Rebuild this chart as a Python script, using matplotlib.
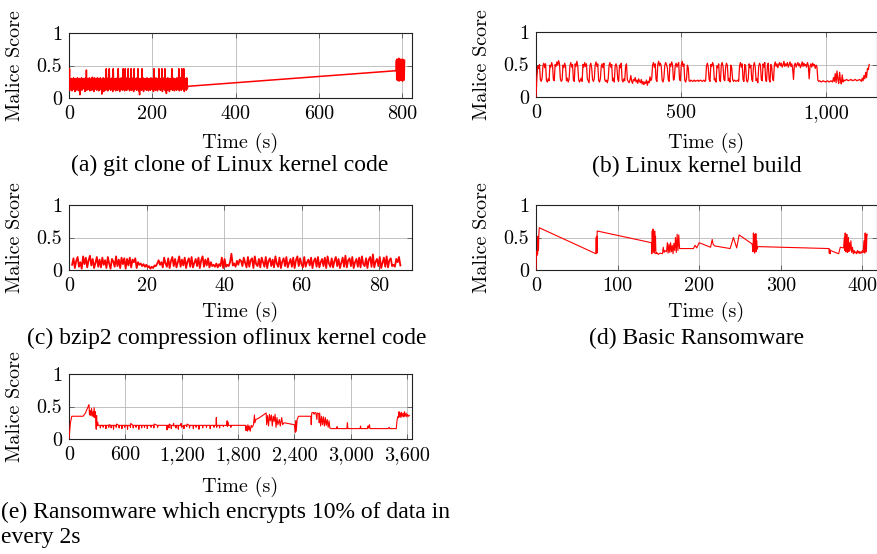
import numpy as np
import matplotlib
matplotlib.use("Agg")
import matplotlib.pyplot as plt
from matplotlib.ticker import FuncFormatter, FixedLocator

# ---------------- data ----------------
# (a) git clone of Linux kernel code -- dense part 0..285 s, then 785..805 s (values in %)
a_dense_span = [0, 285]
a_dense = [
    18, 45, 12, 29, 14, 30, 11, 28, 15, 31, 13, 29, 10, 30, 16, 28, 12, 31, 14, 29,
    11, 30, 5, 28, 13, 31, 12, 29, 16, 30, 14, 28, 10, 31, 13, 43, 12, 30, 15, 29,
    13, 31, 11, 28, 14, 30, 12, 32, 15, 29, 10, 31, 13, 30, 16, 28, 12, 31, 14, 30,
    11, 29, 15, 31, 13, 28, 6, 30, 14, 31, 10, 29, 16, 30, 12, 45, 14, 29, 11, 31,
    13, 45, 15, 28, 12, 30, 14, 31, 10, 45, 16, 29, 13, 30, 11, 28, 15, 31, 12, 45,
    14, 30, 10, 29, 16, 31, 13, 28, 12, 45, 15, 30, 11, 45, 14, 29, 12, 31, 13, 45,
    15, 28, 11, 30, 14, 45, 12, 29, 16, 31, 10, 45, 13, 28, 15, 30, 12, 31, 14, 45,
    11, 29, 5, 30, 15, 28, 12, 45, 14, 31, 10, 29, 16, 30, 13, 28, 12, 31, 15, 29,
    11, 30, 14, 28, 12, 31, 16, 29, 13, 30, 10, 45, 15, 28, 12, 31, 14, 29, 11, 30,
    15, 45, 13, 28, 12, 30, 14, 45, 10, 31, 16, 29, 13, 45, 11, 28, 7, 30, 12, 31,
    14, 29, 10, 30, 13, 28, 16, 45, 12, 31, 15, 29, 11, 30, 14, 28, 12, 31, 13, 30,
    15, 45, 11, 29, 14, 31, 12, 45, 16, 28, 13, 45, 10, 30, 15, 29, 12, 31, 14, 18,
]
a_tail_span = [785, 805]
a_tail = [42, 58, 28, 60, 30, 57, 27, 59, 29, 61, 26, 58, 31, 60, 28, 57,
          27, 59, 30, 58, 28, 60, 26, 57, 29, 59, 27, 56, 30, 58]

# (b) Linux kernel build -- 0..1150 s (values in %)
b_span = [0, 1150]
b_vals = [
    0, 30, 47, 44, 50, 27, 24, 29, 48, 52, 45, 51, 26, 23, 28, 25, 49, 46, 53, 48, 27, 25, 50, 47,
    54, 49, 56, 51, 28, 24, 26, 49, 45, 52, 47, 25, 29, 23, 27, 48, 53, 46, 50, 26, 24, 51, 47, 55,
    48, 27, 23, 26, 29, 24, 50, 46, 53, 47, 51, 28, 25, 22, 48, 52, 45, 27, 24, 28, 49, 54, 47, 51,
    26, 23, 28, 47, 51, 45, 52, 27, 24, 26, 22, 28, 49, 53, 46, 50, 25, 29, 23, 48, 51, 46, 27, 24,
    49, 45, 52, 26, 23, 28, 25, 47, 51, 27, 24, 22, 26, 33, 24, 21, 27, 25, 30, 23, 26, 21, 28, 24,
    22, 27, 20, 24, 19, 23, 21, 26, 18, 24, 22, 31, 25, 28, 49, 53, 46, 51, 27, 24, 50, 55, 48, 52,
    47, 26, 23, 29, 48, 53, 50, 45, 27, 24, 51, 47, 54, 49, 26, 28, 48, 52, 46, 50, 53, 27, 25, 49,
    55, 47, 51, 26, 23, 28, 49, 45, 25, 24, 26, 25, 24, 25, 26, 24, 25, 25, 26, 24, 25, 26, 25, 24,
    25, 26, 24, 25, 48, 52, 46, 27, 24, 50, 47, 53, 49, 26, 28, 23, 48, 45, 51, 26, 24, 49, 53, 47,
    27, 25, 46, 52, 48, 25, 28, 23, 49, 45, 27, 24, 26, 25, 24, 25, 26, 24, 48, 53, 46, 51, 27, 24,
    50, 47, 26, 23, 28, 51, 45, 49, 27, 24, 48, 53, 46, 25, 28, 22, 47, 52, 49, 27, 25, 51, 46, 53,
    26, 24, 48, 52, 27, 23, 50, 46, 28, 25, 49, 54, 47, 51, 45, 50, 53, 48, 52, 46, 49, 55, 47, 51,
    48, 53, 46, 50, 54, 47, 51, 44, 27, 49, 52, 46, 50, 53, 48, 51, 45, 49, 54, 47, 52, 48, 50, 46,
    53, 49, 28, 47, 51, 46, 52, 48, 50, 44, 49, 46, 26, 24, 25, 24, 23, 24, 25, 24, 24, 23, 24, 25,
    24, 23, 24, 25, 24, 23, 30, 24, 36, 22, 40, 27, 21, 38, 25, 20, 34, 23, 26, 25, 26, 27, 26, 25,
    26, 26, 27, 26, 25, 26, 26, 27, 26, 25, 26, 26, 27, 26, 24, 29, 25, 33, 28, 38, 30, 44, 42, 50,
]

# (c) bzip2 compression -- 0.8..85.5 s (values in %)
c_span = [0.8, 85.5]
c_vals = [
    8, 18, 3, 14, 20, 5, 12, 2, 21, 9, 19, 4, 15, 22, 7, 17, 3, 11, 20, 5,
    16, 4, 19, 8, 15, 3, 20, 10, 2, 17, 13, 5, 21, 6, 16, 3, 19, 9, 18, 2,
    17, 7, 19, 4, 16, 12, 18, 3, 12, 8, 10, 6, 9, 5, 8, 4, 6, 2, 5, 3,
    7, 6, 10, 15, 8, 12, 4, 19, 10, 5, 18, 3, 14, 20, 6, 17, 4, 12, 21, 5,
    16, 7, 19, 3, 13, 18, 5, 20, 4, 11, 17, 6, 19, 3, 15, 21, 5, 16, 7, 18,
    4, 12, 6, 8, 5, 10, 4, 9, 6, 19, 3, 17, 5, 8, 6, 12, 25, 7, 10, 5,
    14, 8, 16, 14, 6, 19, 11, 4, 20, 5, 15, 18, 3, 21, 9, 6, 17, 4, 19, 12,
    5, 20, 3, 14, 18, 6, 16, 4, 21, 10, 5, 19, 3, 13, 18, 6, 20, 4, 11, 17,
    5, 19, 3, 15, 21, 6, 18, 9, 4, 20, 5, 12, 16, 7, 19, 3, 14, 18, 5, 20,
    4, 12, 17, 6, 19, 3, 21, 10, 5, 18, 4, 14, 20, 6, 17, 3, 11, 19, 5, 22,
    4, 15, 18, 6, 20, 3, 12, 17, 5, 19, 4, 21, 9, 6, 18, 3, 16, 20, 5, 24,
    4, 13, 17, 6, 20, 3, 11, 19, 5, 21, 4, 15, 18, 6, 8, 5, 17, 12, 20, 7,
]

# (d) Basic Ransomware
d_time = [0, 0.5, 1, 1.5, 2, 2.5, 3, 3.5, 4,
          73.5, 73.8, 74.1, 74.4, 74.7, 75,
          141.5, 142, 142.5, 143, 143.5, 144, 144.5, 145, 145.5, 146, 146.5, 147, 148,
          150, 152, 155, 156, 157, 158, 160, 161, 162, 163, 164, 165, 166, 167, 168,
          169, 170, 171, 172, 173, 174, 175, 176,
          193, 195, 197, 200, 214, 216, 217, 219, 238, 242, 246, 249, 265,
          266, 266.5, 267, 267.5, 268, 268.5, 269, 269.5, 270, 270.5, 271, 272,
          359, 359.5, 360, 360.5, 361, 371, 373, 377,
          378, 378.5, 379, 379.5, 380, 380.5, 381, 381.5, 382, 382.5, 383, 383.5, 384,
          385, 386, 387, 388, 389, 390, 391, 392, 393, 394, 395, 396, 397, 398, 399,
          400, 401, 402, 403, 403.5, 404, 404.5, 405, 405.5, 406]
d_score = [0, 0.28, 0.22, 0.3, 0.25, 0.52, 0.3, 0.55, 0.65,
           0.25, 0.5, 0.27, 0.52, 0.26, 0.6,
           0.42, 0.25, 0.6, 0.3, 0.63, 0.28, 0.55, 0.26, 0.6, 0.3, 0.52, 0.25, 0.27,
           0.24, 0.26, 0.25, 0.35, 0.27, 0.3, 0.28, 0.42, 0.26, 0.4, 0.27, 0.42, 0.28, 0.38, 0.25,
           0.41, 0.3, 0.5, 0.27, 0.55, 0.3, 0.54, 0.33,
           0.33, 0.38, 0.34, 0.42, 0.35, 0.47, 0.4, 0.37, 0.33, 0.5, 0.34, 0.54, 0.4,
           0.28, 0.57, 0.3, 0.55, 0.26, 0.5, 0.3, 0.56, 0.28, 0.45, 0.32, 0.36,
           0.33, 0.26, 0.32, 0.25, 0.3, 0.25, 0.35, 0.34,
           0.5, 0.3, 0.57, 0.28, 0.45, 0.3, 0.55, 0.27, 0.4, 0.3, 0.5, 0.28, 0.42,
           0.3, 0.45, 0.27, 0.35, 0.25, 0.3, 0.26, 0.28, 0.25, 0.3, 0.26, 0.29, 0.25, 0.28, 0.26,
           0.3, 0.27, 0.45, 0.26, 0.57, 0.3, 0.55, 0.28, 0.5, 0.55]

# (e) Ransomware which encrypts 10% of data in every 2s
e_time = [0, 15, 30, 150, 175, 213, 218, 225, 232, 240, 247, 255, 262, 268, 275, 280, 286, 290, 294, 298, 305, 312,
          330, 334, 338, 360, 364, 368, 390, 393, 397, 420, 424, 428, 445, 449, 453, 470, 474, 478,
          500, 503, 507, 530, 534, 538, 560, 564, 568, 590, 594, 598, 620, 623, 627, 650, 654, 658,
          680, 684, 688, 710, 714, 718, 740, 744, 748, 770, 774, 778, 800, 804, 808, 830, 834, 838,
          870, 874, 878, 900, 904, 908, 940, 944, 948, 1000, 1040, 1044, 1048, 1060, 1064, 1068,
          1085, 1089, 1093, 1110, 1114, 1118, 1135, 1139, 1143, 1160, 1164, 1168, 1190, 1194, 1198,
          1220, 1224, 1228, 1250, 1254, 1258, 1280, 1284, 1288, 1320, 1324, 1328, 1350, 1354, 1358,
          1380, 1384, 1388, 1420, 1424, 1428, 1460, 1464, 1468, 1500, 1504, 1508, 1540, 1544, 1548,
          1565, 1569, 1573, 1577, 1600, 1604, 1608, 1640, 1644, 1648, 1680, 1684, 1688, 1692, 1696,
          1720, 1724, 1728, 1760, 1800, 1840, 1860,
          1880, 1885, 1890, 1900, 1905, 1915, 1920, 1930, 1940, 1950, 1965, 1975, 1980, 1990, 2020, 2060, 2100,
          2105, 2115, 2125, 2135, 2145, 2155, 2165, 2175, 2185, 2195, 2205, 2215, 2225, 2240, 2250, 2265, 2275, 2290,
          2400, 2410, 2415, 2420, 2430, 2445, 2575, 2580, 2585, 2600, 2610, 2620, 2630, 2640, 2645, 2660, 2665,
          2670, 2680, 2690, 2700, 2710, 2720, 2730, 2740, 2750, 2760, 2770, 2778, 2790,
          2850, 2855, 2860, 2960, 2965, 2970, 3050, 3100, 3105, 3110, 3180, 3185, 3190, 3200, 3205, 3300,
          3400, 3410, 3415, 3485,
          3495, 3505, 3510, 3515, 3520, 3528, 3535, 3542, 3550, 3558, 3565, 3572, 3580, 3590, 3598, 3606, 3615, 3625]
e_score = [0, 0.25, 0.35, 0.35, 0.4, 0.53, 0.37, 0.44, 0.36, 0.47, 0.35, 0.42, 0.34, 0.48, 0.33, 0.42, 0.25, 0.15, 0.36, 0.2, 0.26, 0.21,
           0.21, 0.17, 0.21, 0.21, 0.18, 0.21, 0.21, 0.16, 0.21, 0.21, 0.18, 0.22, 0.21, 0.17, 0.21, 0.21, 0.15, 0.21,
           0.21, 0.18, 0.23, 0.21, 0.17, 0.21, 0.21, 0.16, 0.21, 0.21, 0.18, 0.21, 0.21, 0.15, 0.21, 0.21, 0.18, 0.24,
           0.21, 0.17, 0.21, 0.21, 0.18, 0.21, 0.21, 0.15, 0.21, 0.21, 0.17, 0.21, 0.21, 0.18, 0.21, 0.21, 0.16, 0.21,
           0.21, 0.18, 0.21, 0.21, 0.17, 0.23, 0.21, 0.18, 0.21, 0.21, 0.21, 0.14, 0.21, 0.21, 0.17, 0.23,
           0.21, 0.16, 0.21, 0.21, 0.24, 0.2, 0.21, 0.17, 0.21, 0.21, 0.15, 0.21, 0.21, 0.24, 0.18,
           0.21, 0.16, 0.21, 0.21, 0.19, 0.23, 0.21, 0.17, 0.21, 0.21, 0.16, 0.21, 0.21, 0.18, 0.21,
           0.21, 0.15, 0.21, 0.21, 0.17, 0.21, 0.21, 0.18, 0.21, 0.21, 0.16, 0.21, 0.21, 0.18, 0.21,
           0.21, 0.33, 0.18, 0.21, 0.21, 0.17, 0.21, 0.21, 0.19, 0.21, 0.21, 0.28, 0.19, 0.26, 0.21,
           0.21, 0.18, 0.21, 0.21, 0.21, 0.21, 0.21,
           0.21, 0.13, 0.2, 0.12, 0.22, 0.14, 0.2, 0.12, 0.21, 0.18, 0.22, 0.37, 0.25, 0.3, 0.32, 0.36, 0.4,
           0.22, 0.36, 0.2, 0.38, 0.28, 0.37, 0.2, 0.35, 0.27, 0.38, 0.18, 0.33, 0.22, 0.3, 0.2, 0.33, 0.22, 0.25,
           0.22, 0.1, 0.28, 0.12, 0.3, 0.35, 0.35, 0.22, 0.4, 0.41, 0.38, 0.41, 0.4, 0.3, 0.4, 0.39, 0.25,
           0.4, 0.2, 0.35, 0.22, 0.34, 0.2, 0.33, 0.21, 0.3, 0.18, 0.28, 0.17, 0.16,
           0.16, 0.19, 0.16, 0.16, 0.25, 0.16, 0.16, 0.16, 0.2, 0.16, 0.16, 0.2, 0.17, 0.22, 0.16, 0.16,
           0.16, 0.18, 0.16, 0.16,
           0.3, 0.35, 0.33, 0.42, 0.34, 0.4, 0.33, 0.41, 0.35, 0.39, 0.34, 0.42, 0.35, 0.4, 0.34, 0.38, 0.35, 0.36]

a_xticks = [0, 200, 400, 600, 800]
b_xticks = [0, 500, 1000]
c_xticks = [0, 20, 40, 60, 80]
d_xticks = [0, 100, 200, 300, 400]
e_xticks = [0, 600, 1200, 1800, 2400, 3000, 3600]
y_ticks = [0, 0.5, 1]

captions = ["(a) git clone of Linux kernel code",
            "(b) Linux kernel build",
            "(c) bzip2 compression oflinux kernel code",
            "(d) Basic Ransomware",
            "(e) Ransomware which encrypts 10% of data in\nevery 2s"]

# ---------------- build series ----------------
a_time = np.concatenate([np.linspace(a_dense_span[0], a_dense_span[1], len(a_dense)),
                         np.linspace(a_tail_span[0], a_tail_span[1], len(a_tail))])
a_score = np.array(a_dense + a_tail) / 100.0
b_time = np.linspace(b_span[0], b_span[1], len(b_vals))
b_score = np.array(b_vals) / 100.0
c_time = np.linspace(c_span[0], c_span[1], len(c_vals))
c_score = np.array(c_vals) / 100.0

# ---------------- figure ----------------
W, H = 878, 554
fig = plt.figure(figsize=(W / 100, H / 100), dpi=100)
TICKFONT = "cmr10"
CAPFONT = "Liberation Serif"
TS = 14.5
CS = 17


def rect(l, r, t, b):
    return [l / W, (H - b) / H, (r - l) / W, (b - t) / H]


def fmt(v, pos):
    if abs(v - round(v)) < 1e-9:
        return f"{int(round(v)):,}"
    return f"{v:g}"


panels = [
    (a_time, a_score, a_xticks, (0, 823), (69, 412, 33, 98), 1.1),
    (b_time, b_score, b_xticks, (0, 1177), (536, 877, 32, 97), 0.9),
    (c_time, c_score, c_xticks, (0, 88.5), (69, 412, 205, 270), 1.3),
    (np.array(d_time), np.array(d_score), d_xticks, (0, 418), (536, 877, 205, 270), 0.8),
    (np.array(e_time), np.array(e_score), e_xticks, (0, 3653), (69, 412, 374, 439), 0.8),
]

xlabel_y = [143, 143, 312, 312, 487]
ylabel_x = [15, 482, 15, 482, 15]
cap_pos = [(230, 165, "center"), (697, 166, "center"), (227, 338, "center"),
           (697, 338, "center"), (1, 525, "left")]

for i, (t, s, xt, xl, (l, r, tp, bt), lw) in enumerate(panels):
    ax = fig.add_axes(rect(l, r, tp, bt))
    ax.plot(t, s, color="#ff0000", lw=lw, zorder=3)
    ax.set_xlim(*xl)
    ax.set_ylim(0, 1)
    ax.xaxis.set_major_locator(FixedLocator(xt))
    ax.yaxis.set_major_locator(FixedLocator(y_ticks))
    ax.xaxis.set_major_formatter(FuncFormatter(fmt))
    ax.yaxis.set_major_formatter(FuncFormatter(fmt))
    ax.grid(True, color="#b8b8b8", lw=0.6, zorder=0)
    ax.set_axisbelow(True)
    ax.tick_params(direction="in", length=3.5, width=0.6, color="#555555",
                   top=True, right=True, labelsize=TS, pad=5)
    for lab in ax.get_xticklabels() + ax.get_yticklabels():
        lab.set_fontfamily(TICKFONT)
    for sp in ax.spines.values():
        sp.set_linewidth(0.8)
        sp.set_color("#222222")
    cx = (l + r) / 2
    fig.text(cx / W, 1 - xlabel_y[i] / H, "Time (s)", ha="center", va="center",
             fontsize=TS, fontfamily=TICKFONT)
    fig.text(ylabel_x[i] / W, 1 - ((tp + bt) / 2) / H, "Malice Score", ha="center",
             va="center", rotation=90, fontsize=TS, fontfamily=TICKFONT)
    px, py, ha = cap_pos[i]
    fig.text(px / W, 1 - py / H, captions[i], ha=ha, va="center", fontsize=CS,
             fontfamily=CAPFONT, linespacing=1.3)

fig.savefig("out.png", dpi=100)
